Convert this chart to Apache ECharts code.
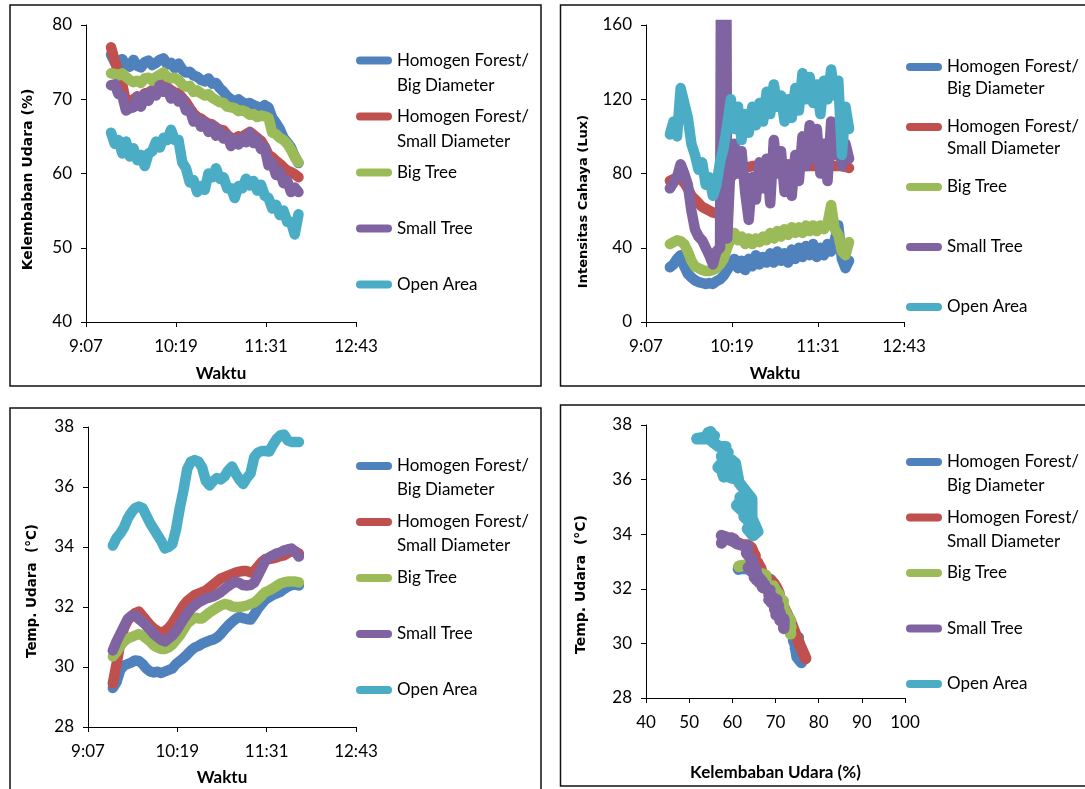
<!DOCTYPE html>
<html>
<head>
<meta charset="utf-8">
<script src="https://cdn.jsdelivr.net/npm/echarts@6/dist/echarts.min.js"></script>
<style>
html,body{margin:0;padding:0;background:#fff;}
#chart{width:1085px;height:789px;}
</style>
</head>
<body>
<div id="chart"></div>
<script>
// ---------------- DATA ----------------
const seriesNames = ['Homogen Forest/ Big Diameter', 'Homogen Forest/ Small Diameter', 'Big Tree', 'Small Tree', 'Open Area'];
const timeTicks = ['9:07', '10:19', '11:31', '12:43'];
const times = ['9:27','9:30','9:33','9:36','9:39','9:42','9:45','9:48','9:51','9:54','9:57','10:00','10:03','10:06','10:09','10:12','10:15','10:18','10:21','10:24','10:27','10:30','10:33','10:36','10:39','10:42','10:45','10:48','10:51','10:54','10:57','11:00','11:03','11:06','11:09','11:12','11:15','11:18','11:21','11:24','11:27','11:30','11:33','11:36','11:39','11:42','11:45','11:48','11:51','11:54','11:57'];

// Kelembaban Udara (%)
const humBigDiameter = [76.0,75.0,74.6,75.4,74.6,74.4,75.3,74.5,74.3,75.0,75.2,74.6,74.9,75.3,75.5,74.7,74.9,74.2,74.8,74.0,73.6,73.7,73.2,73.0,72.6,72.4,72.8,72.1,72.2,71.5,71.0,70.4,70.0,69.7,70.0,69.6,69.3,69.5,69.2,69.0,68.8,69.2,68.9,67.5,66.8,66.0,64.8,64.2,63.5,62.3,61.4];
const humSmallDiameter = [77.0,75.2,73.5,72.0,69.6,68.9,70.0,70.4,70.1,70.8,70.9,71.2,71.6,72.0,72.1,71.6,71.2,70.9,70.8,70.2,69.6,68.8,68.1,67.6,67.4,67.0,66.7,66.6,66.2,65.9,65.8,65.2,64.8,64.7,65.0,64.9,65.3,65.6,65.2,64.8,64.4,63.6,62.5,62.2,61.7,61.3,60.8,60.4,60.2,59.9,59.5];
const humBigTree = [73.5,73.4,73.2,73.5,73.0,72.6,72.3,72.5,72.2,72.8,72.9,72.5,73.0,73.3,73.6,73.0,72.8,72.9,72.6,72.0,71.7,71.8,71.0,71.2,70.8,70.5,70.7,70.2,69.9,69.6,69.5,69.0,68.9,68.8,68.4,68.5,68.3,67.9,68.0,67.6,67.8,67.7,67.5,65.5,65.3,64.8,64.5,64.0,63.2,62.2,61.5];
const humSmallTree = [71.9,72.0,70.7,70.5,68.5,68.8,68.9,70.3,69.0,70.7,69.8,71.1,70.5,71.9,71.0,71.5,70.1,70.8,69.7,70.1,68.5,68.7,67.0,67.5,66.3,66.9,65.6,66.5,65.1,65.8,64.7,65.1,63.7,64.6,63.9,64.8,64.2,65.5,64.1,64.7,63.3,63.5,61.1,61.5,59.8,60.3,58.7,59.0,57.5,58.1,57.5];
const humOpenArea = [65.5,64.0,64.5,62.7,64.3,62.3,63.4,61.8,62.5,61.0,62.7,63.0,64.3,63.5,64.8,64.5,65.9,64.5,64.5,61.5,60.7,58.8,59.1,57.5,58.3,57.8,60.0,59.5,60.7,59.3,59.5,58.0,58.0,56.7,58.3,58.0,59.3,58.4,59.0,57.7,58.5,57.0,56.7,55.3,55.8,54.4,55.0,53.5,53.5,51.8,54.5];

// Intensitas Cahaya (Lux)
const luxBigDiameter = [29.5,31,34,36,30,26,24,22.5,21.5,21,20.5,21,20.5,22,23,25,28,31,34,29,33,28,34,30,36,31,35,32,37,32,38,33,37,32,39,34,40,35,41,36,42,35,40,36,42,38,44,52,34,29,33];
const luxSmallDiameter = [76,77,77.5,77,75,72,68,66,64,62,61,60,59,58.5,60,66,72,78,80,81,82,83,83.5,84,84,84.5,84.5,84,84.5,85,84.5,84,84.5,85,84,84,84.5,84,84,84,84,84,84,84,84,84,84,84,84,83.5,83];
const luxBigTree = [42,43,44,43.5,42,38,33,30,29,28,27.5,27.5,28,29,31,34,40,45,48,44,46,42,45,42,45,43,46,44,48,45,49,46,50,47,51,48,51,48,52,49,52,49,52,50,53,63,50,47,38,36,43];
const luxSmallTree = [72,75,78,85,80,74,60,50,46,44,40,36,31,38,40,600,45,88,96,80,92,70,55,78,66,86,72,88,64,98,80,92,70,84,68,90,76,100,84,106,88,104,80,96,76,108,90,104,84,96,88];
const luxOpenArea = [101,108,100,126,118,110,96,90,82,86,74,78,68,74,86,94,106,120,104,116,98,112,102,116,106,118,108,124,112,128,116,122,108,120,110,126,114,134,120,132,118,128,112,130,120,136,122,130,90,116,104];

// Temp. Udara (°C)
const tempBigDiameter = [29.3,29.5,29.9,30.05,30.1,30.15,30.22,30.2,30.1,29.95,29.85,29.82,29.84,29.8,29.85,29.9,29.95,30.1,30.2,30.3,30.42,30.55,30.65,30.7,30.78,30.83,30.88,30.92,30.98,31.1,31.25,31.38,31.5,31.6,31.67,31.63,31.6,31.58,31.75,31.95,32.1,32.25,32.33,32.4,32.45,32.5,32.6,32.68,32.73,32.75,32.72];
const tempSmallDiameter = [29.45,30.1,30.8,31.3,31.55,31.7,31.8,31.85,31.7,31.55,31.4,31.28,31.2,31.15,31.2,31.3,31.45,31.65,31.85,32.05,32.2,32.3,32.4,32.45,32.5,32.55,32.65,32.75,32.85,32.95,33.0,33.05,33.1,33.15,33.18,33.2,33.2,33.15,33.2,33.35,33.5,33.6,33.6,33.62,33.65,33.7,33.72,33.8,33.85,33.85,33.78];
const tempBigTree = [30.35,30.5,30.7,30.85,30.95,31.0,31.05,31.1,31.05,30.95,30.85,30.72,30.65,30.6,30.6,30.65,30.75,30.9,31.05,31.25,31.45,31.55,31.65,31.62,31.62,31.72,31.82,31.9,31.98,32.05,32.1,32.08,32.02,32.0,32.0,32.02,32.05,32.1,32.15,32.25,32.38,32.5,32.55,32.62,32.7,32.78,32.82,32.85,32.85,32.85,32.82];
const tempSmallTree = [30.55,30.85,31.1,31.35,31.6,31.7,31.72,31.6,31.5,31.38,31.25,31.1,31.0,30.9,30.85,30.95,31.05,31.2,31.4,31.6,31.78,31.95,32.05,32.15,32.22,32.28,32.32,32.36,32.42,32.5,32.6,32.7,32.78,32.84,32.8,32.73,32.72,32.73,32.82,33.05,33.3,33.55,33.65,33.72,33.78,33.82,33.88,33.92,33.95,33.85,33.68];
const tempOpenArea = [34.05,34.3,34.45,34.65,34.95,35.15,35.3,35.35,35.3,35.05,34.8,34.6,34.4,34.2,33.95,34.0,34.1,34.6,35.3,35.9,36.6,36.85,36.9,36.85,36.65,36.2,36.05,36.2,36.3,36.25,36.35,36.55,36.68,36.45,36.25,36.1,36.3,36.45,37.0,37.15,37.2,37.2,37.18,37.4,37.6,37.72,37.75,37.55,37.5,37.5,37.5];

const colors = ['#4F81BD', '#C0504D', '#9BBB59', '#8064A2', '#4BACC6'];

// ---------------- BUILD ----------------
function toMin(s) { const p = s.split(':'); return (+p[0]) * 60 + (+p[1]); }
const t0 = toMin(timeTicks[0]);
const tEnd = toMin(timeTicks[timeTicks.length - 1]);
const tStep = toMin(timeTicks[1]) - t0;
function fmtMin(v) { const m = Math.round(v + t0); return Math.floor(m / 60) + ':' + String(m % 60).padStart(2, '0'); }
const xs = times.map(t => toMin(t) - t0);

const humSets = [humBigDiameter, humSmallDiameter, humBigTree, humSmallTree, humOpenArea];
const luxSets = [luxBigDiameter, luxSmallDiameter, luxBigTree, luxSmallTree, luxOpenArea];
const tempSets = [tempBigDiameter, tempSmallDiameter, tempBigTree, tempSmallTree, tempOpenArea];

const FONT = 'Lato';
const black = '#000';

function baseAxis(extra) {
  return Object.assign({
    type: 'value',
    axisLine: { show: true, onZero: false, lineStyle: { color: black, width: 1 } },
    axisTick: { show: true, inside: false, length: 5, lineStyle: { color: black } },
    splitLine: { show: false },
    axisLabel: { color: black, fontFamily: FONT, fontSize: 17 },
    nameLocation: 'middle'
  }, extra);
}
function timeX(gridIndex, nameGap) {
  return baseAxis({
    gridIndex, min: 0, max: tEnd - t0, interval: tStep,
    axisLabel: { color: black, fontFamily: FONT, fontSize: 17, margin: 16, formatter: fmtMin, showMaxLabel: true, showMinLabel: true },
    name: 'Waktu', nameGap,
    nameTextStyle: { color: black, fontFamily: FONT, fontWeight: 'bold', fontSize: 17 }
  });
}
function valY(gridIndex, min, max, interval, name, nameGap, size, pad) {
  return baseAxis({
    gridIndex, min, max, interval,
    axisLabel: { color: black, fontFamily: FONT, fontSize: 17, margin: 14 },
    name, nameGap,
    nameTextStyle: { color: black, fontFamily: 'DejaVu Sans', fontWeight: 'bold', fontSize: size, padding: pad }
  });
}

const series = [];
function addLines(gi, width, dataFn) {
  seriesNames.forEach((n, i) => {
    series.push({
      name: n, type: 'line', xAxisIndex: gi, yAxisIndex: gi,
      data: dataFn(i), showSymbol: false, symbol: 'none', silent: true,
      lineStyle: { color: colors[i], width, cap: 'round', join: 'round' },
      itemStyle: { color: colors[i] },
      animation: false, clip: true
    });
  });
}
addLines(0, 10.5, i => xs.map((x, k) => [x, humSets[i][k]]));
addLines(1, 10.5, i => xs.map((x, k) => [x, luxSets[i][k]]));
addLines(2, 10.5, i => xs.map((x, k) => [x, tempSets[i][k]]));
addLines(3, 11.5, i => humSets[i].map((h, k) => [h, tempSets[i][k]]));

function legendFmt(n) {
  return n.indexOf('/ ') >= 0 ? '\n' + n.replace('/ ', '/\n') : '\n' + n + '\n';
}
function legend(left, top, lh, gap) {
  return {
    left, top, orient: 'vertical', data: seriesNames, selectedMode: false,
    icon: 'path://M4,0L32,0A4,4,0,0,1,32,8L4,8A4,4,0,0,1,4,0Z',
    itemWidth: 36, itemHeight: 8, itemGap: gap, padding: 0,
    formatter: legendFmt,
    textStyle: { color: black, fontFamily: FONT, fontSize: 17, lineHeight: lh }
  };
}

const option = {
  backgroundColor: '#fff',
  animation: false,
  color: colors,
  graphic: [
    { type: 'rect', shape: { x: 10, y: 5, width: 531, height: 381 }, style: { fill: 'none', stroke: '#111', lineWidth: 1.5 }, silent: true },
    { type: 'rect', shape: { x: 560.5, y: 5, width: 540, height: 381 }, style: { fill: 'none', stroke: '#111', lineWidth: 1.5 }, silent: true },
    { type: 'rect', shape: { x: 10, y: 408, width: 531, height: 400 }, style: { fill: 'none', stroke: '#111', lineWidth: 1.5 }, silent: true },
    { type: 'rect', shape: { x: 560.5, y: 405, width: 540, height: 381 }, style: { fill: 'none', stroke: '#111', lineWidth: 1.5 }, silent: true }
  ],
  grid: [
    { left: 86, top: 25, width: 270, height: 297 },
    { left: 646, top: 25, width: 258, height: 297 },
    { left: 88, top: 427, width: 268, height: 300 },
    { left: 646, top: 425, width: 259, height: 273 }
  ],
  xAxis: [
    timeX(0, 43),
    timeX(1, 43),
    timeX(2, 42),
    baseAxis({
      gridIndex: 3, min: 40, max: 100, interval: 10,
      axisLabel: { color: black, fontFamily: FONT, fontSize: 17, margin: 16 },
      name: 'Kelembaban Udara (%)', nameGap: 66,
      nameTextStyle: { color: black, fontFamily: FONT, fontWeight: 'bold', fontSize: 17 }
    })
  ],
  yAxis: [
    valY(0, 40, 80, 10, 'Kelembaban Udara (%)', 51, 14, [0, 12, 0, 0]),
    valY(1, 0, 160, 40, 'Intensitas Cahaya (Lux)', 56, 13, [0, 56, 0, 0]),
    valY(2, 28, 38, 2, 'Temp. Udara  (°C)', 49, 13.5, [0, 28, 0, 0]),
    valY(3, 28, 38, 2, 'Temp. Udara  (°C)', 58, 14, [0, 46, 0, 0])
  ],
  legend: [
    legend(356, 23, 25, -19),
    legend(906, 34, 22, -6),
    legend(356, 430, 24, -16),
    legend(906, 426, 24, -16.5)
  ],
  series
};

const chart = echarts.init(document.getElementById('chart'), null, { renderer: 'canvas', width: 1085, height: 789 });
chart.setOption(option);
</script>
</body>
</html>
